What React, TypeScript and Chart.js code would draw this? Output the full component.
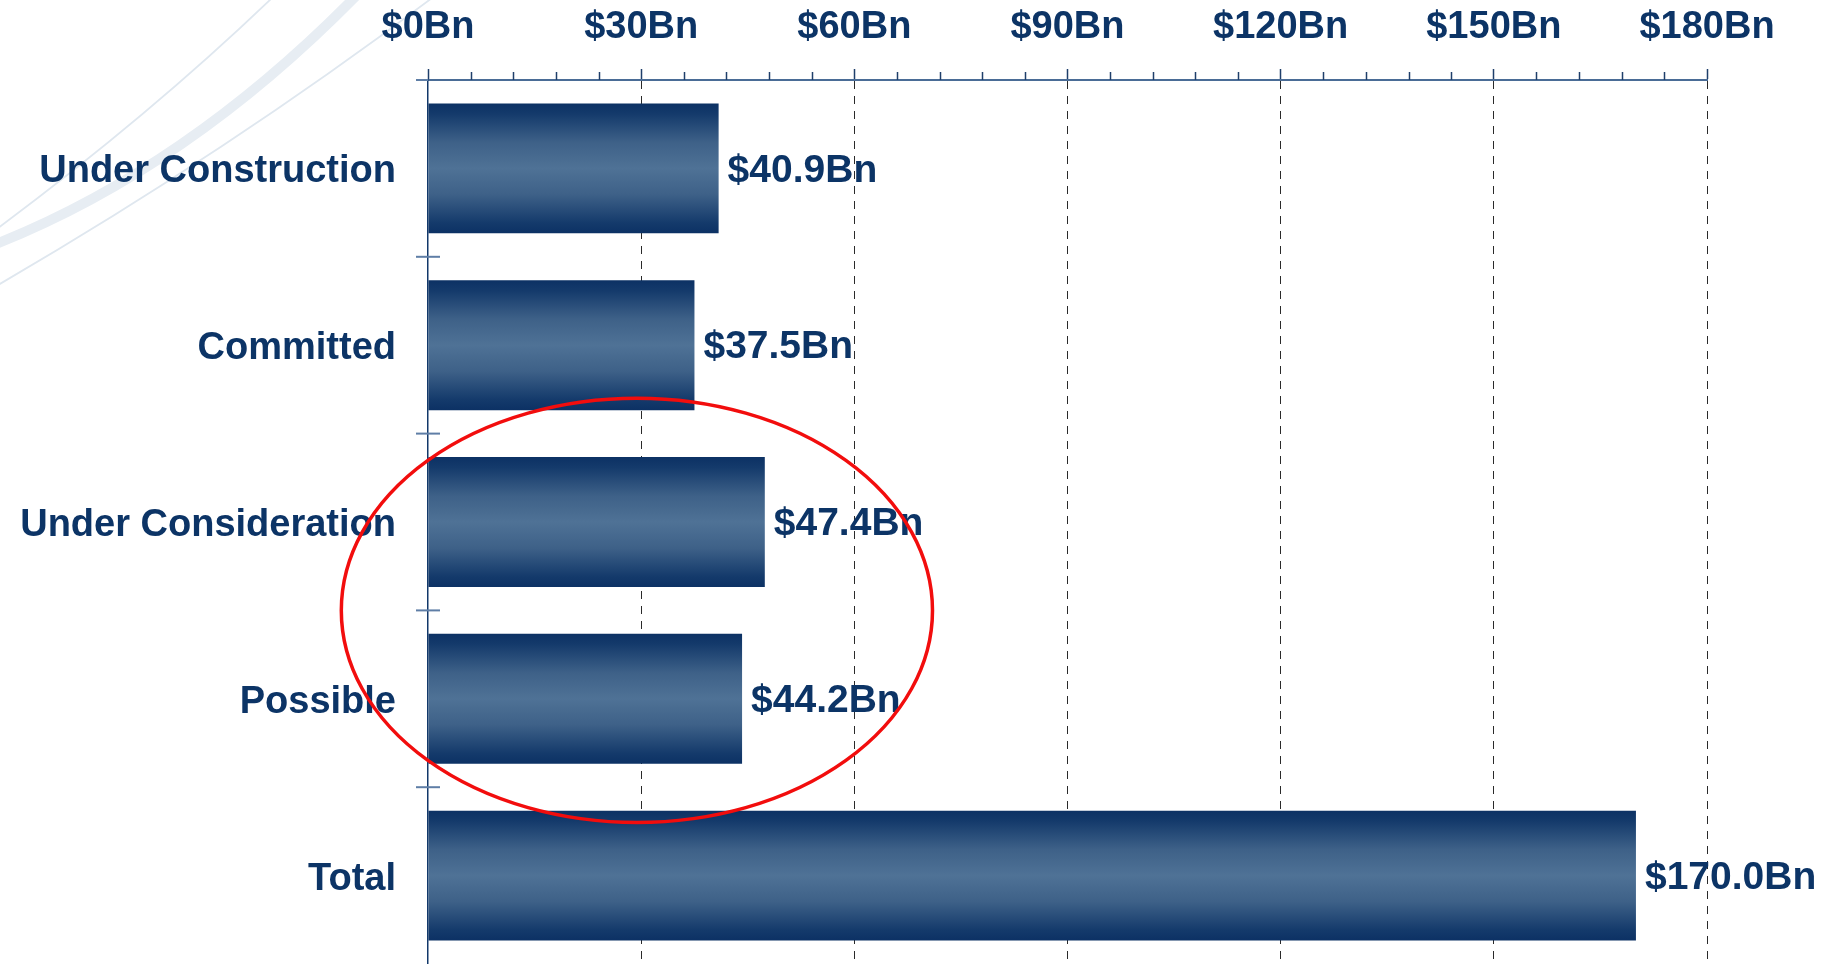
import React, { useEffect, useRef } from 'react';
import { Chart, registerables } from 'chart.js';

Chart.register(...registerables);

// ---- data ----
const categories = ['Under Construction', 'Committed', 'Under Consideration', 'Possible', 'Total'];
const values = [40.9, 37.5, 47.4, 44.2, 170.0];
const valueLabels = ['$40.9Bn', '$37.5Bn', '$47.4Bn', '$44.2Bn', '$170.0Bn'];
const xTickValues = [0, 30, 60, 90, 120, 150, 180];
const xTickLabels = ['$0Bn', '$30Bn', '$60Bn', '$90Bn', '$120Bn', '$150Bn', '$180Bn'];
const minorTickStep = 6;
// red ellipse highlighting "Under Consideration" + "Possible" (value units / category units)
const highlightCenterValue = 29.4;
const highlightCategories = [2, 3];
const highlightRadiusValue = 41.6;
const highlightRadiusBands = 1.2;

// ---- styles ----
const FONT = '"Liberation Sans", Arial, Helvetica, sans-serif';
const NAVY = '#0c3466';
const BAR_PCT = 0.735;

const decorationPlugin = {
  id: 'decoration',
  beforeDraw(chart: any) {
    const ctx = chart.ctx;
    ctx.save();
    ctx.lineCap = 'round';
    ctx.strokeStyle = '#dfe7ef';
    ctx.lineWidth = 1.8;
    ctx.beginPath();
    ctx.moveTo(272, -2);
    ctx.quadraticCurveTo(150, 115, -2, 228);
    ctx.stroke();
    ctx.strokeStyle = '#e7edf3';
    ctx.lineWidth = 10;
    ctx.beginPath();
    ctx.moveTo(356, -4);
    ctx.quadraticCurveTo(187, 168, -4, 244);
    ctx.stroke();
    ctx.strokeStyle = '#dfe7ef';
    ctx.lineWidth = 1.8;
    ctx.beginPath();
    ctx.moveTo(432, -2);
    ctx.quadraticCurveTo(230, 150, -2, 285);
    ctx.stroke();
    ctx.restore();
  },
};

const axisExtrasPlugin = {
  id: 'axisExtras',
  afterDraw(chart: any) {
    const ctx = chart.ctx;
    const xs = chart.scales.x;
    const ys = chart.scales.y;
    const area = chart.chartArea;
    ctx.save();
    // minor ticks on the top axis
    ctx.strokeStyle = '#1f3f6b';
    ctx.lineWidth = 1.5;
    for (let v = 0; v <= xs.max + 1e-9; v += minorTickStep) {
      if (xTickValues.includes(v)) continue;
      const px = Math.round(xs.getPixelForValue(v)) + 0.5;
      ctx.beginPath();
      ctx.moveTo(px, area.top - 8);
      ctx.lineTo(px, area.top);
      ctx.stroke();
    }
    // category boundary ticks crossing the value axis line
    const band = Math.abs(ys.getPixelForValue(1) - ys.getPixelForValue(0));
    ctx.strokeStyle = '#5f7ea6';
    ctx.lineWidth = 2;
    for (let i = 0; i <= categories.length; i++) {
      const py = ys.getPixelForValue(i) - band / 2;
      if (py > area.bottom - 1) continue;
      ctx.beginPath();
      ctx.moveTo(area.left - 12, py);
      ctx.lineTo(area.left + (i === 0 ? 0 : 12), py);
      ctx.stroke();
    }
    ctx.restore();
  },
};

const valueLabelPlugin = {
  id: 'valueLabels',
  afterDatasetsDraw(chart: any) {
    const ctx = chart.ctx;
    const meta = chart.getDatasetMeta(0);
    ctx.save();
    ctx.font = `bold 39px ${FONT}`;
    ctx.fillStyle = NAVY;
    ctx.textAlign = 'left';
    ctx.textBaseline = 'middle';
    meta.data.forEach((el: any, i: number) => {
      ctx.fillText(valueLabels[i], el.x + 9, el.y + 2.5);
    });
    ctx.restore();
  },
};

const ellipsePlugin = {
  id: 'highlightEllipse',
  afterDraw(chart: any) {
    const ctx = chart.ctx;
    const xs = chart.scales.x;
    const ys = chart.scales.y;
    const cx = xs.getPixelForValue(highlightCenterValue);
    const cy = (ys.getPixelForValue(highlightCategories[0]) + ys.getPixelForValue(highlightCategories[1])) / 2;
    const rx = xs.getPixelForValue(highlightRadiusValue) - xs.getPixelForValue(0);
    const band = Math.abs(ys.getPixelForValue(1) - ys.getPixelForValue(0));
    const ry = band * highlightRadiusBands;
    ctx.save();
    ctx.strokeStyle = '#f20d0d';
    ctx.lineWidth = 3.5;
    ctx.beginPath();
    ctx.ellipse(cx, cy, rx, ry, 0, 0, Math.PI * 2);
    ctx.stroke();
    ctx.restore();
  },
};

export default function App() {
  const canvasRef = useRef<HTMLCanvasElement | null>(null);

  useEffect(() => {
    document.body.style.margin = '0';
    const canvas = canvasRef.current;
    if (!canvas) return;
    const chart = new Chart(canvas, {
      type: 'bar',
      data: {
        labels: categories,
        datasets: [
          {
            data: values,
            barPercentage: BAR_PCT,
            categoryPercentage: 1,
            borderWidth: 0,
            backgroundColor: (c: any) => {
              const ch = c.chart;
              const ys = ch.scales && ch.scales.y;
              if (!ys || c.dataIndex == null) return '#2b4f7b';
              const center = ys.getPixelForValue(c.dataIndex);
              const band = Math.abs(ys.getPixelForValue(1) - ys.getPixelForValue(0));
              const h = band * BAR_PCT;
              if (!isFinite(center) || !isFinite(h) || h <= 0) return '#2b4f7b';
              const g = ch.ctx.createLinearGradient(0, center - h / 2, 0, center + h / 2);
              g.addColorStop(0, '#0c3164');
              g.addColorStop(0.08, '#143a6b');
              g.addColorStop(0.3, '#3e6188');
              g.addColorStop(0.5, '#4f7296');
              g.addColorStop(0.7, '#3e6188');
              g.addColorStop(0.92, '#143a6b');
              g.addColorStop(1, '#0c3164');
              return g;
            },
          },
        ],
      },
      options: {
        indexAxis: 'y',
        responsive: false,
        animation: false,
        devicePixelRatio: 1,
        layout: { padding: { left: 0, right: 121, top: 0, bottom: 0 } },
        plugins: {
          legend: { display: false },
          tooltip: { enabled: false },
        },
        scales: {
          x: {
            position: 'top',
            min: 0,
            max: 180,
            afterFit: (s: any) => {
              s.height = 80;
            },
            afterBuildTicks: (s: any) => {
              s.ticks = xTickValues.map((v) => ({ value: v }));
            },
            ticks: {
              callback: (_v: any, i: number) => xTickLabels[i],
              font: { family: FONT, size: 38, weight: 'bold' },
              color: NAVY,
              padding: 19,
              maxRotation: 0,
              autoSkip: false,
            },
            grid: {
              color: (c: any) => (c.index === 0 ? 'rgba(0,0,0,0)' : '#2a2a2a'),
              lineWidth: 1,
              tickLength: 11,
              tickColor: '#1f3f6b',
              tickWidth: 1.5,
              drawTicks: true,
            },
            border: { display: true, color: '#4a6c96', width: 2, dash: [8, 7] },
          },
          y: {
            afterFit: (s: any) => {
              s.width = 428;
              s.paddingTop = 0;
              s.paddingBottom = 0;
            },
            ticks: {
              font: { family: FONT, size: 38, weight: 'bold' },
              color: NAVY,
              padding: 32,
              labelOffset: 3.5,
              autoSkip: false,
            },
            grid: { display: true, drawOnChartArea: false, drawTicks: false },
            border: { display: true, color: '#12386a', width: 1.5 },
          },
        },
      },
      plugins: [decorationPlugin, axisExtrasPlugin, valueLabelPlugin, ellipsePlugin],
    } as any);
    return () => chart.destroy();
  }, []);

  return (
    <div style={{ width: 1828, height: 964, position: 'relative', background: '#ffffff' }}>
      <canvas ref={canvasRef} width={1828} height={964} style={{ display: 'block' }} />
    </div>
  );
}
